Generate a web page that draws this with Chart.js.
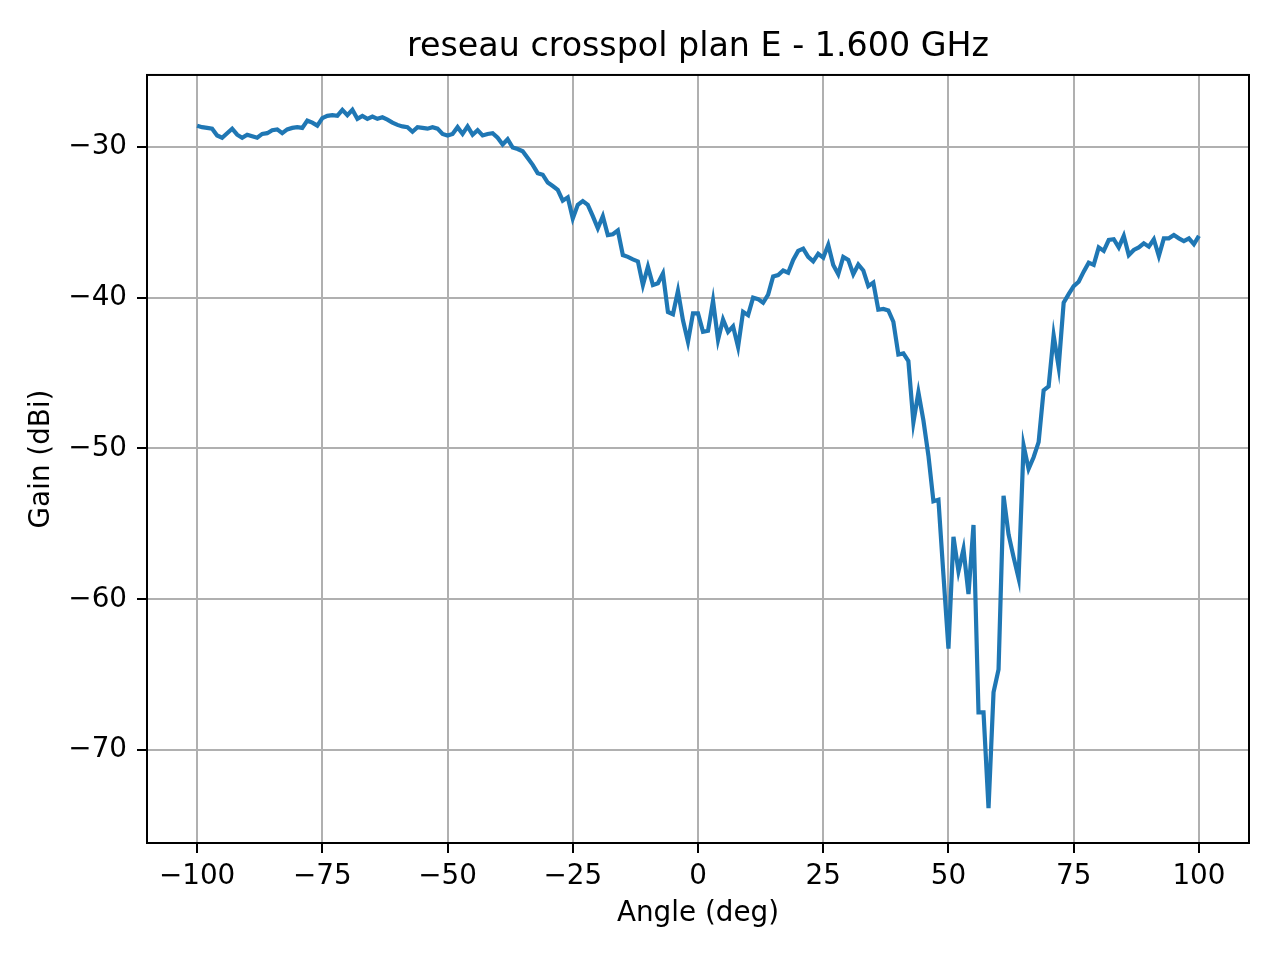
<!DOCTYPE html>
<html>
<head>
<meta charset="utf-8">
<script src="https://cdn.jsdelivr.net/npm/chart.js@4/dist/chart.umd.min.js"></script>
<style>
  body { margin: 0; background: #fff; }
  #chart { display: block; }
</style>
</head>
<body>
<canvas id="chart" width="1280" height="960"></canvas>
<script>
// angle samples (deg)
const angles = [
  -100, -99, -98, -97, -96, -95, -94, -93, -92, -91,
  -90, -89, -88, -87, -86, -85, -84, -83, -82, -81,
  -80, -79, -78, -77, -76, -75, -74, -73, -72, -71,
  -70, -69, -68, -67, -66, -65, -64, -63, -62, -61,
  -60, -59, -58, -57, -56, -55, -54, -53, -52, -51,
  -50, -49, -48, -47, -46, -45, -44, -43, -42, -41,
  -40, -39, -38, -37, -36, -35, -34, -33, -32, -31,
  -30, -29, -28, -27, -26, -25, -24, -23, -22, -21,
  -20, -19, -18, -17, -16, -15, -14, -13, -12, -11,
  -10, -9, -8, -7, -6, -5, -4, -3, -2, -1,
  0, 1, 2, 3, 4, 5, 6, 7, 8, 9,
  10, 11, 12, 13, 14, 15, 16, 17, 18, 19,
  20, 21, 22, 23, 24, 25, 26, 27, 28, 29,
  30, 31, 32, 33, 34, 35, 36, 37, 38, 39,
  40, 41, 42, 43, 44, 45, 46, 47, 48, 49,
  50, 51, 52, 53, 54, 55, 56, 57, 58, 59,
  60, 61, 62, 63, 64, 65, 66, 67, 68, 69,
  70, 71, 72, 73, 74, 75, 76, 77, 78, 79,
  80, 81, 82, 83, 84, 85, 86, 87, 88, 89,
  90, 91, 92, 93, 94, 95, 96, 97, 98, 99,
  100
];

// gain (dBi)
const gain = [
  -28.6, -28.7, -28.75, -28.8, -29.25, -29.4, -29.1, -28.8, -29.2, -29.4,
  -29.2, -29.3, -29.4, -29.15, -29.1, -28.9, -28.85, -29.1, -28.85, -28.75,
  -28.7, -28.75, -28.27, -28.4, -28.6, -28.1, -27.95, -27.9, -27.95, -27.55,
  -27.9, -27.55, -28.15, -27.95, -28.15, -28.0, -28.15, -28.05, -28.2, -28.4,
  -28.55, -28.65, -28.7, -29.0, -28.7, -28.75, -28.8, -28.7, -28.8, -29.15,
  -29.25, -29.15, -28.7, -29.15, -28.65, -29.2, -28.9, -29.25, -29.15, -29.1,
  -29.4, -29.85, -29.5, -30.05, -30.15, -30.3, -30.75, -31.2, -31.75, -31.85,
  -32.37, -32.6, -32.86, -33.57, -33.35, -34.75, -33.85, -33.6, -33.85, -34.6,
  -35.4, -34.6, -35.85, -35.8, -35.55, -37.18, -37.3, -37.46, -37.6, -39.17,
  -37.95, -39.17, -39.05, -38.4, -40.95, -41.1, -39.55, -41.5, -42.93, -41.05,
  -41.05, -42.27, -42.2, -40.2, -42.8, -41.45, -42.27, -41.9, -43.27, -40.94,
  -41.16, -40.0, -40.1, -40.34, -39.8, -38.6, -38.5, -38.2, -38.35, -37.5,
  -36.9, -36.75, -37.3, -37.6, -37.1, -37.35, -36.5, -37.84, -38.45, -37.3,
  -37.5, -38.45, -37.8, -38.2, -39.24, -39.0, -40.8, -40.75, -40.85, -41.6,
  -43.77, -43.7, -44.2, -48.26, -46.28, -48.14, -50.47, -53.5, -53.4, -58.4,
  -63.26, -55.86, -58.14, -56.67, -59.65, -55.07, -67.49, -67.49, -73.84, -66.16,
  -64.65, -53.14, -55.7, -57.2, -58.6, -49.8, -51.35, -50.58, -49.58, -46.15,
  -45.88, -42.5, -44.6, -40.34, -39.77, -39.24, -38.95, -38.28, -37.68, -37.83,
  -36.67, -36.9, -36.18, -36.13, -36.67, -35.91, -37.18, -36.84, -36.67, -36.4,
  -36.62, -36.13, -37.24, -36.07, -36.07, -35.85, -36.07, -36.25, -36.07, -36.46,
  -35.91
];

const xTicks = [-100, -75, -50, -25, 0, 25, 50, 75, 100];
const yTicks = [-70, -60, -50, -40, -30];

const FONT = 'DejaVu Sans';

function fmt(v) {
    return v < 0 ? '\u2212' + Math.abs(v) : String(v);
}

// black box around the plot area, like matplotlib spines
const frame = {
    id: 'frame',
    afterDatasetsDraw(chart) {
        const { ctx, chartArea: a } = chart;
        ctx.save();
        ctx.strokeStyle = '#000';
        ctx.lineWidth = 2;
        ctx.strokeRect(a.left, a.top, a.right - a.left, a.bottom - a.top);
        ctx.restore();
    }
};

const ctx = document.getElementById('chart').getContext('2d');
const chart = new Chart(ctx, {
    type: 'line',
    data: {
        datasets: [{
            data: angles.map((a, i) => ({ x: a, y: gain[i] })),
            borderColor: '#1f77b4',
            borderWidth: 4.2,
            pointRadius: 0,
            tension: 0,
            fill: false
        }]
    },
    options: {
        responsive: false,
        animation: false,
        devicePixelRatio: 1,
        layout: { padding: { left: 0, right: 31, top: 0, bottom: 0 } },
        plugins: {
            legend: { display: false },
            tooltip: { enabled: false },
            title: {
                display: true,
                fullSize: false,
                text: 'reseau crosspol plan E - 1.600 GHz',
                color: '#000',
                font: { family: FONT, size: 33.3, weight: 'normal' },
                padding: { top: 27, bottom: 8 }
            }
        },
        scales: {
            x: {
                type: 'linear',
                min: -110,
                max: 110,
                ticks: {
                    stepSize: 25,
                    color: '#000',
                    font: { family: FONT, size: 27.8 },
                    padding: 7,
                    maxRotation: 0,
                    callback: fmt
                },
                afterBuildTicks: s => { s.ticks = xTicks.map(v => ({ value: v })); },
                afterFit: s => { s.height = 117; s.paddingLeft = 0; s.paddingRight = 0; },
                grid: { color: '#b0b0b0', lineWidth: 2, tickColor: '#000', tickLength: 10, tickWidth: 2 },
                border: { display: false },
                title: {
                    display: true,
                    text: 'Angle (deg)',
                    color: '#000',
                    font: { family: FONT, size: 27.8 },
                    padding: { top: 0, bottom: 30 }
                }
            },
            y: {
                min: -76.15,
                max: -25.24,
                ticks: {
                    stepSize: 10,
                    color: '#000',
                    font: { family: FONT, size: 27.8 },
                    padding: 10,
                    callback: fmt
                },
                afterBuildTicks: s => { s.ticks = yTicks.map(v => ({ value: v })); },
                afterFit: s => { s.width = 147; s.paddingTop = 0; s.paddingBottom = 0; },
                grid: { color: '#b0b0b0', lineWidth: 2, tickColor: '#000', tickLength: 10, tickWidth: 2 },
                border: { display: false },
                title: {
                    display: true,
                    text: 'Gain (dBi)',
                    color: '#000',
                    font: { family: FONT, size: 27.8 },
                    padding: { top: 25, bottom: 0 }
                }
            }
        }
    },
    plugins: [frame]
});
</script>
</body>
</html>
